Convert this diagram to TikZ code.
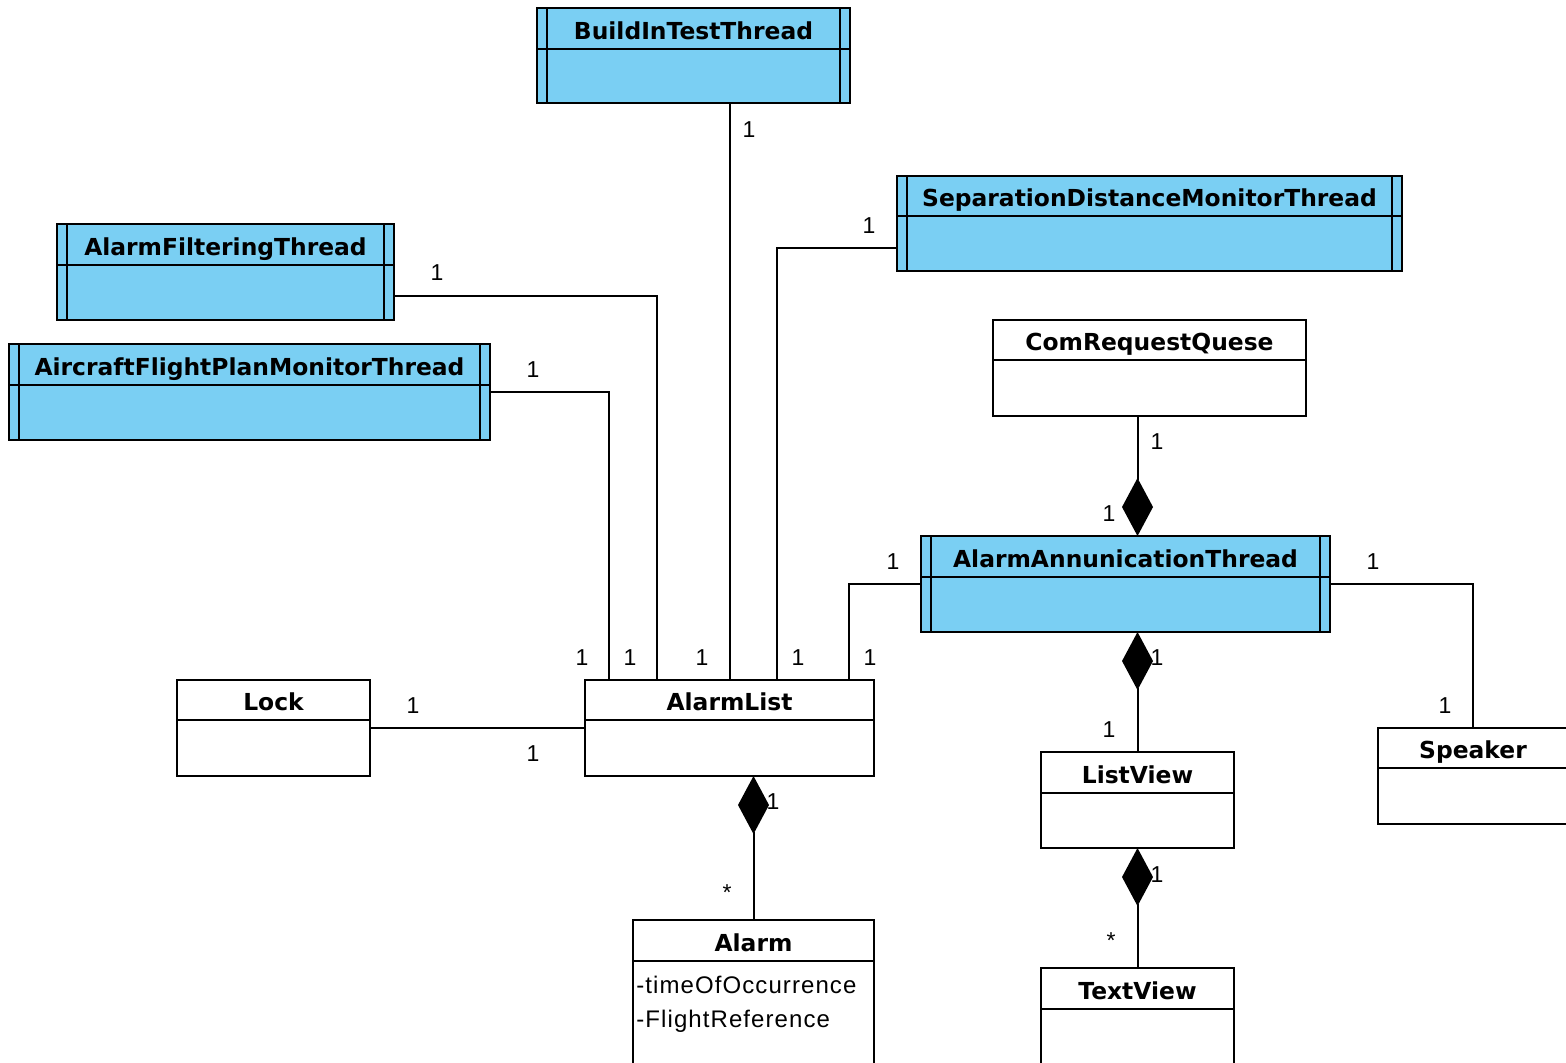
\documentclass[tikz,border=0pt]{standalone}
\usepackage{fontspec}
\setmainfont{Liberation Sans}
\newfontfamily\headfont{DejaVu Sans}
\newfontfamily\attrfont{Liberation Sans}[LetterSpace=4.5]
\usetikzlibrary{fit,arrows.meta}
\definecolor{activeblue}{RGB}{122,207,243}
\tikzset{
  classbox/.style={draw=black, line width=1pt, fill=white, inner sep=0pt, outer sep=0pt, rectangle},
  activebox/.style={classbox, fill=activeblue},
  classtitle/.style={font=\headfont\bfseries\fontsize{11.7}{14}\selectfont, anchor=base, inner sep=0pt},
  mult/.style={font=\fontsize{11.5}{13}\selectfont, inner sep=0pt},
  attr/.style={font=\attrfont\fontsize{12}{14}\selectfont, anchor=west, inner sep=0pt},
  link/.style={line width=1pt},
  compose/.style={link, -{Diamond[length=29pt,width=15.5pt]}},
}
% name, style, x1, y1, x2, y2, divider y, title
\newcommand\umlclass[8]{%
  \node[#2, fit={(#3,#4) (#5,#6)}] (#1) {};
  \draw[line width=1pt] (#1.west |- 0,#7) -- (#1.east |- 0,#7);
  \node[classtitle] (#1-title) at ({(#3+#5)/2},{#7-10}) {#8};
}
% double side bars of an active class
\newcommand\activebars[1]{%
  \draw[line width=1pt] ([xshift=5pt]#1.north west) -- ([xshift=5pt]#1.south west)
    ([xshift=-5pt]#1.north east) -- ([xshift=-5pt]#1.south east);
}
\begin{document}
\begin{tikzpicture}[x=0.5pt, y=-0.5pt]
\useasboundingbox (0,0) rectangle (1566,1062);

% classes
\umlclass{bit}{activebox}{537}{8}{850}{103}{49}{BuildInTestThread}
\activebars{bit}
\umlclass{sdm}{activebox}{897}{176}{1402}{271}{216}{SeparationDistanceMonitorThread}
\activebars{sdm}
\umlclass{aft}{activebox}{57}{224}{394}{320}{265}{AlarmFilteringThread}
\activebars{aft}
\umlclass{afp}{activebox}{9}{344}{490}{440}{385}{AircraftFlightPlanMonitorThread}
\activebars{afp}
\umlclass{crq}{classbox}{993}{320}{1306}{416}{360}{ComRequestQuese}
\umlclass{aat}{activebox}{921}{536}{1330}{632}{577}{AlarmAnnunicationThread}
\activebars{aat}
\umlclass{lock}{classbox}{177}{680}{370}{776}{720}{Lock}
\umlclass{al}{classbox}{585}{680}{874}{776}{720}{AlarmList}
\umlclass{lv}{classbox}{1041}{752}{1234}{848}{793}{ListView}
\umlclass{sp}{classbox}{1378}{728}{1568}{824}{768}{Speaker}
\umlclass{alarm}{classbox}{633}{920}{874}{1075}{961}{Alarm}
\umlclass{tv}{classbox}{1041}{968}{1234}{1075}{1009}{TextView}

% attributes of Alarm
\node[attr] (alarm-a1) at (636,985) {-timeOfOccurrence};
\node[attr] (alarm-a2) at (636,1021) {-FlightReference};

% associations
\draw[link] (al.north) -- (al.north |- bit.south);
\draw[link] ([yshift=-12pt]aft.east) -| ([xshift=36pt]al.north west);
\draw[link] (afp.east) -| ([xshift=12pt]al.north west);
\draw[link] ([yshift=-12pt]sdm.west) -| ([xshift=96pt]al.north west);
\draw[link] (aat.west) -| ([xshift=132pt]al.north west);
\draw[link] (lock.east) -- (al.west);
\draw[link] (aat.east) -| (sp.north);

% compositions
\draw[compose] (crq.south -| lv.north) -- (aat.north -| lv.north);
\draw[compose] (lv.north) -- (aat.south -| lv.north);
\draw[compose] (alarm.north) -- (alarm.north |- al.south);
\draw[compose] (tv.north) -- (lv.south);

% multiplicities
\node[mult] (m1) at (749,130) {1};
\node[mult] (m2) at (437,273) {1};
\node[mult] (m3) at (533,370) {1};
\node[mult] (m4) at (869,226) {1};
\node[mult] (m5) at (893,562) {1};
\node[mult] (m6) at (413,706) {1};
\node[mult] (m7) at (533,754) {1};
\node[mult] (m8) at (582,658) {1};
\node[mult] (m9) at (630,658) {1};
\node[mult] (m10) at (702,658) {1};
\node[mult] (m11) at (798,658) {1};
\node[mult] (m12) at (870,658) {1};
\node[mult] (m13) at (1157,442) {1};
\node[mult] (m14) at (1109,514) {1};
\node[mult] (m15) at (1157,658) {1};
\node[mult] (m16) at (1109,730) {1};
\node[mult] (m17) at (1373,562) {1};
\node[mult] (m18) at (1445,706) {1};
\node[mult] (m19) at (773,802) {1};
\node[mult] (m20) at (727,893) {*};
\node[mult] (m21) at (1157,875) {1};
\node[mult] (m22) at (1111,941) {*};
\end{tikzpicture}
\end{document}
